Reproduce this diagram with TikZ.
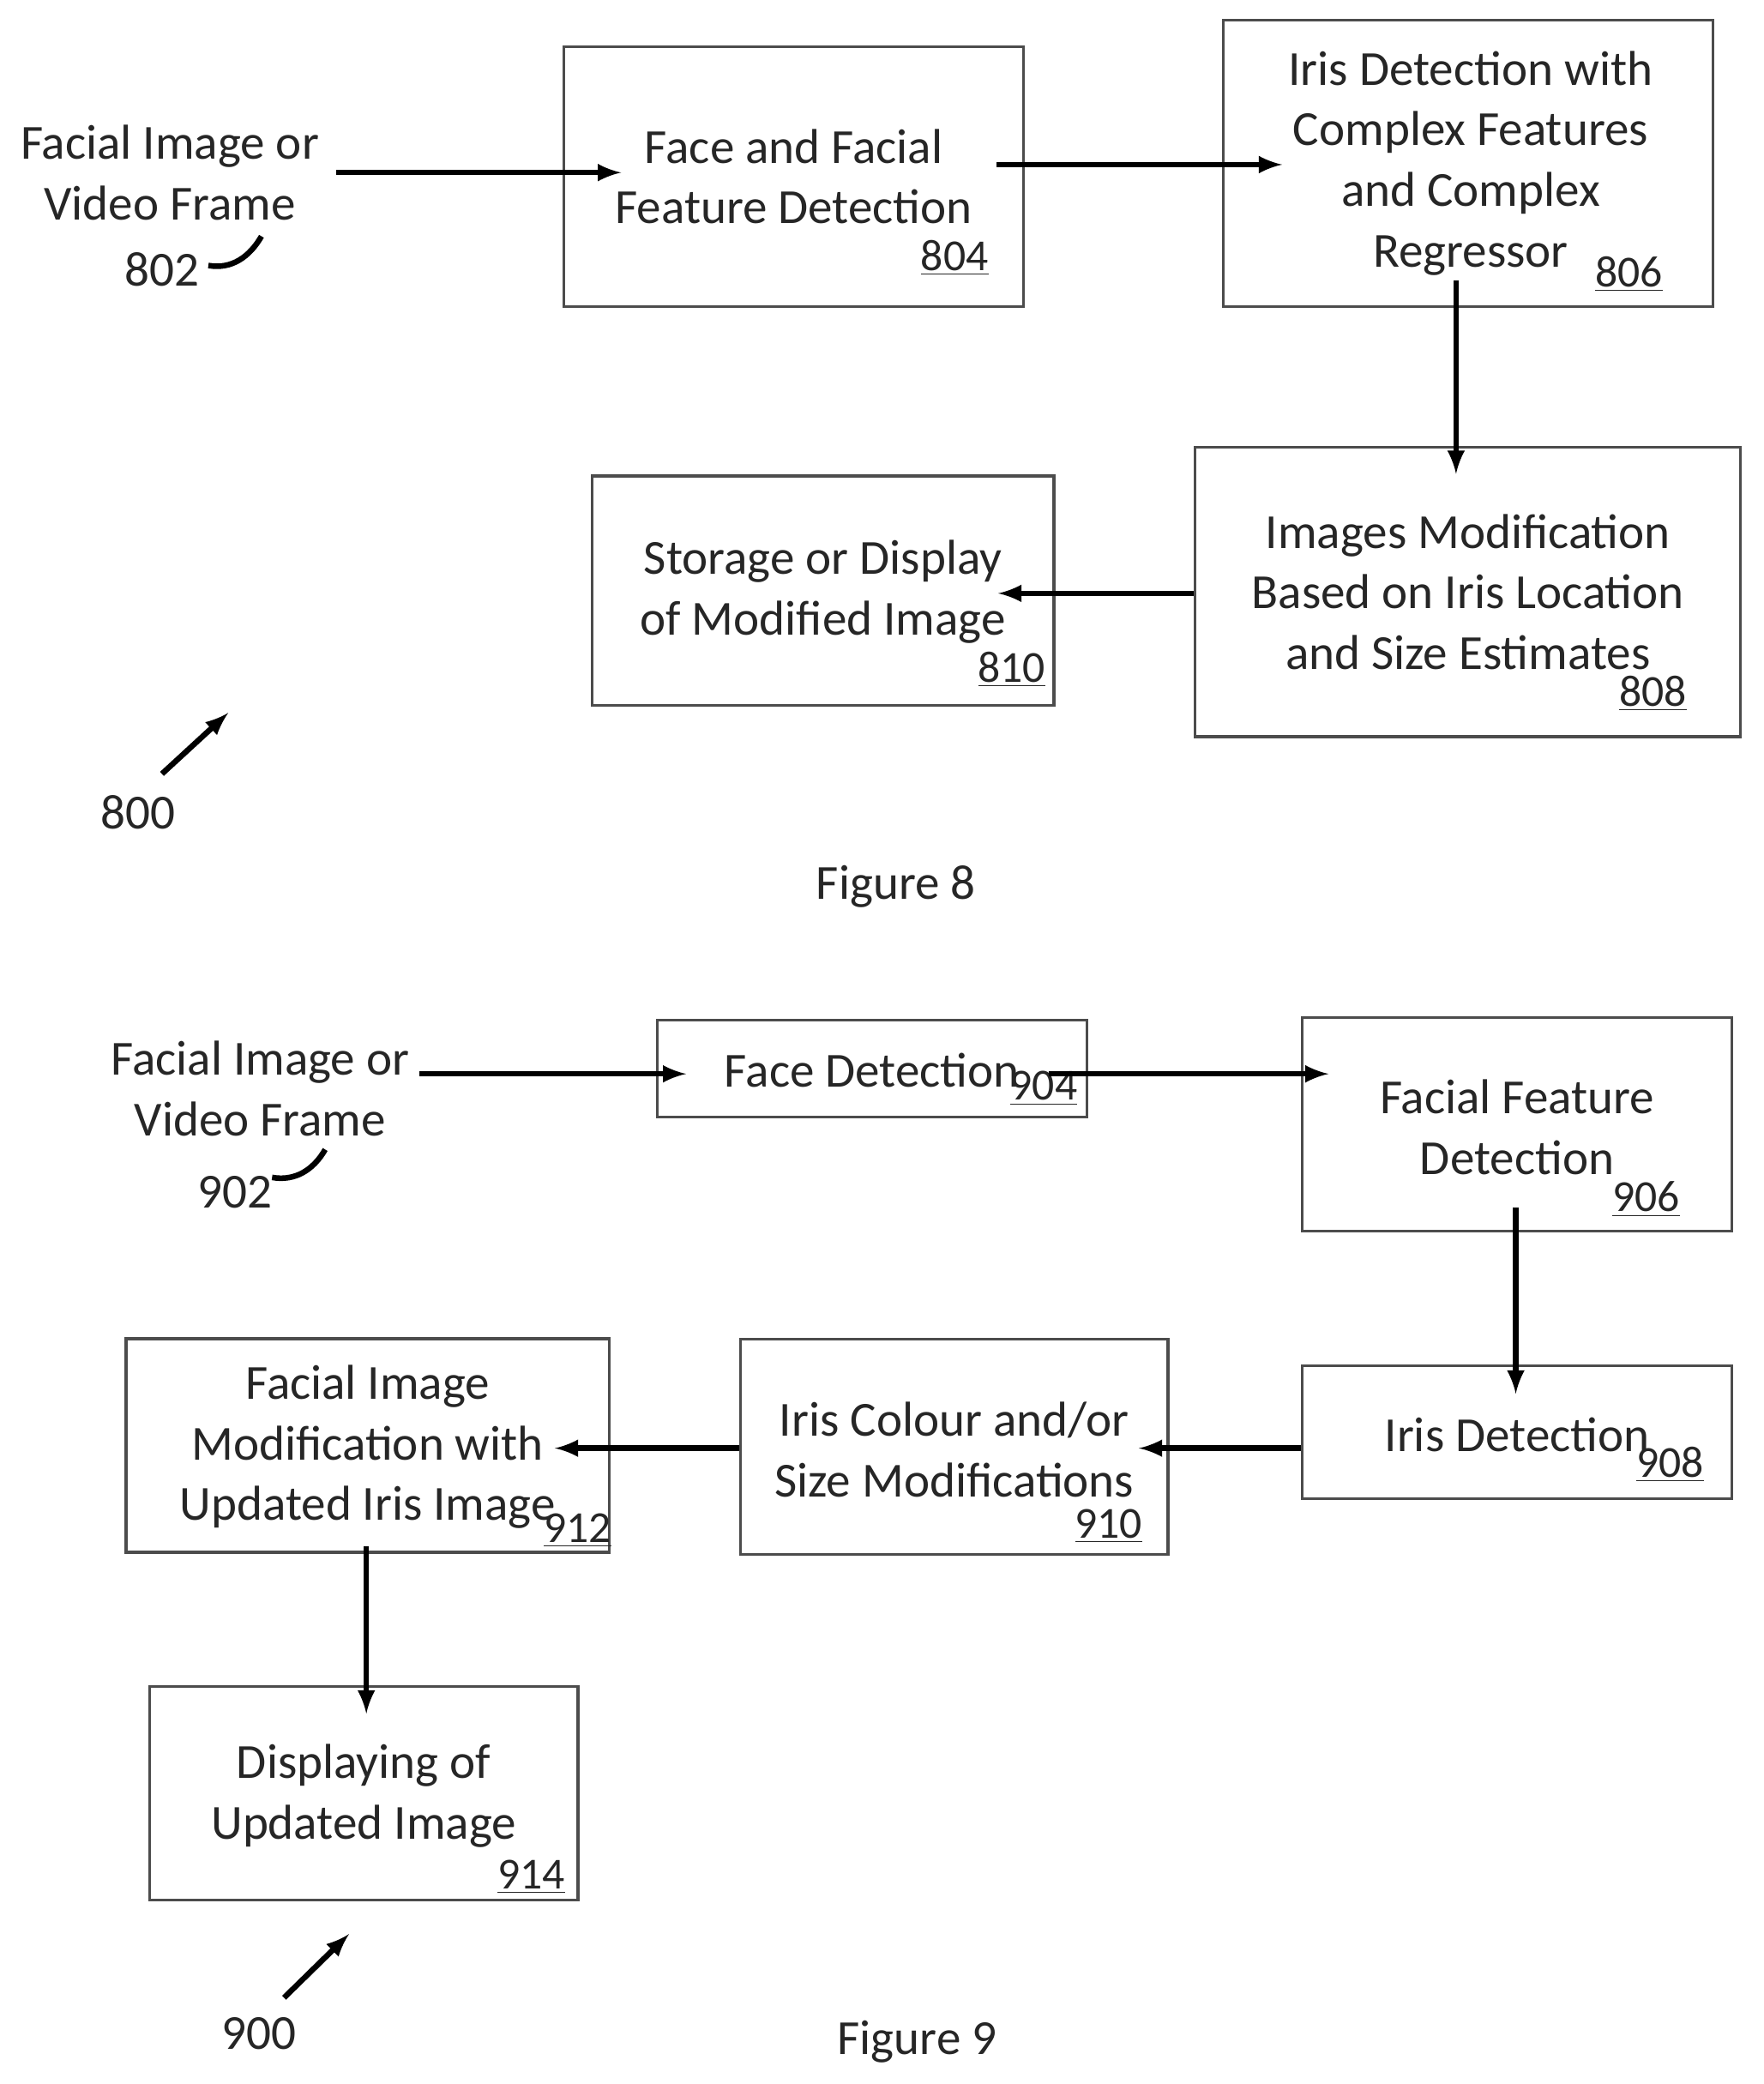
\documentclass[tikz,border=0pt]{standalone}
\usepackage{fontspec}
\setmainfont{Carlito}
\usetikzlibrary{positioning,arrows}

\begin{document}
\begin{tikzpicture}[
  x=0.02cm,y=-0.02cm,
  box/.style={draw=black!70,line width=1.2pt,rectangle,inner sep=0pt,align=center},
  num/.style={font=\fontsize{19}{20}\selectfont,inner sep=0pt,anchor=south east},
  flow/.style={-latex,line width=2.4pt},
  font=\fontsize{21}{26}\selectfont,
  every node/.style={text=black!85}
]
\useasboundingbox (0,0) rectangle (1329,1570);
% Figure 8
\node[align=center] (t802) at (128,130) {Facial Image or\\Video Frame};
\node (n802) at (122,203) {802};
\node[box,minimum width=6.92cm,minimum height=3.92cm] (b804) at (598,133) {};
\node[align=center] at (598,133) {Face and Facial\\Feature Detection};
\node[box,minimum width=7.38cm,minimum height=4.32cm] (b806) at (1106,123) {};
\node[align=center] at (1108,123) {Iris Detection with\\Complex Features\\and Complex\\Regressor};
\node[box,minimum width=8.22cm,minimum height=4.36cm] (b808) at (1106,446) {};
\node[align=center] at (1106,446) {Images Modification\\Based on Iris Location\\and Size Estimates};
\node[box,minimum width=6.96cm,minimum height=3.46cm] (b810) at (620,445) {};
\node[align=center] at (620,446) {Storage or Display\\of Modified Image};
\node[num] at (745,208) {\underline{804}};
\node[num] at (1253,220) {\underline{806}};
\node[num] at (1271,536) {\underline{808}};
\node[num] at (788,518) {\underline{810}};
\node (n800) at (104,612) {800};
\node (f8) at (675,668) {Figure 8};
\coordinate (a1) at (253,130); \coordinate (a1e) at (468,130);
\coordinate (a2) at (751,124); \coordinate (a2e) at (966,124);
\coordinate (a3) at (1097,211); \coordinate (a3e) at (1097,357);
\coordinate (a4e) at (752,447);
\coordinate (p800) at (122,583); \coordinate (p800e) at (172,537);
\draw[flow] (a1) -- (a1e);
\draw[flow] (a2) -- (a2e);
\draw[flow] (a3) -- (a3e);
\draw[flow] (b808.west |- a4e) -- (a4e);
\draw[flow] (p800) -- (p800e);
\draw[line width=2.4pt] (157,200) to[out=-10,in=-120] (197,178);
% Figure 9
\node[align=center] (t902) at (196,820) {Facial Image or\\Video Frame};
\node (n902) at (177,898) {902};
\node[box,minimum width=6.48cm,minimum height=1.46cm] (b904) at (657,805) {};
\node at (657,806) {Face Detection};
\node[box,minimum width=6.48cm,minimum height=3.22cm] (b906) at (1143,847) {};
\node[align=center] at (1143,849) {Facial Feature\\Detection};
\node[box,minimum width=6.48cm,minimum height=2cm] (b908) at (1143,1079) {};
\node at (1143,1081) {Iris Detection};
\node[box,minimum width=6.44cm,minimum height=3.24cm] (b910) at (719,1090) {};
\node[align=center] at (719,1092) {Iris Colour and/or\\Size Modifications};
\node[box,minimum width=7.28cm,minimum height=3.22cm] (b912) at (277,1089) {};
\node[align=center] at (277,1090) {Facial Image\\Modification with\\Updated Iris Image};
\node[box,minimum width=6.46cm,minimum height=3.22cm] (b914) at (274,1351) {};
\node[align=center] at (274,1353) {Displaying of\\Updated Image};
\node[num] at (812,833) {\underline{904}};
\node[num] at (1266,917) {\underline{906}};
\node[num] at (1284,1117) {\underline{908}};
\node[num] at (861,1163) {\underline{910}};
\node[num] at (461,1166) {\underline{912}};
\node[num] at (426,1427) {\underline{914}};
\node (n900) at (195,1532) {900};
\node (f9) at (691,1538) {Figure 9};
\coordinate (c1) at (316,809); \coordinate (c1e) at (517,809);
\coordinate (c2) at (790,809); \coordinate (c2e) at (1001,809);
\coordinate (c3) at (1142,910); \coordinate (c3e) at (1142,1050);
\coordinate (c4e) at (858,1091);
\coordinate (c5e) at (418,1091);
\coordinate (c6) at (276,1165); \coordinate (c6e) at (276,1291);
\coordinate (p900) at (214,1505); \coordinate (p900e) at (263,1457);
\draw[flow] (c1) -- (c1e);
\draw[flow] (c2) -- (c2e);
\draw[flow] (c3) -- (c3e);
\draw[flow] (b908.west |- c4e) -- (c4e);
\draw[flow] (b910.west |- c5e) -- (c5e);
\draw[flow] (c6) -- (c6e);
\draw[flow] (p900) -- (p900e);
\draw[line width=2.4pt] (205,887) to[out=-10,in=-120] (245,866);
\end{tikzpicture}
\end{document}
